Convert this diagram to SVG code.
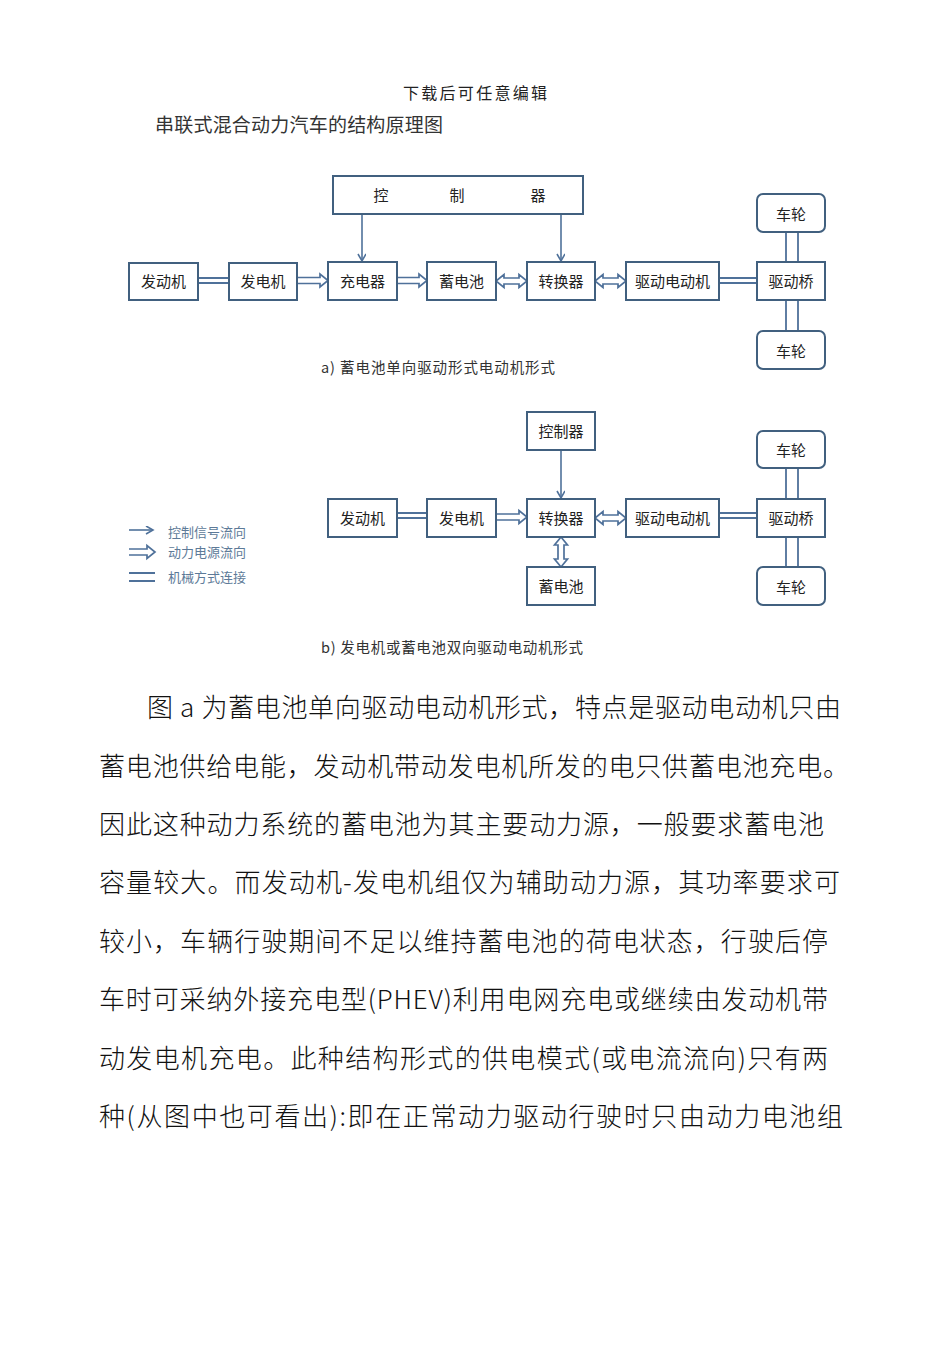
<svg xmlns="http://www.w3.org/2000/svg" width="950" height="1348" viewBox="0 0 950 1348">
<defs>
<style>
.box{fill:#fff;stroke:#41607f;stroke-width:2}
.lbl{font-family:"Noto Sans CJK SC","Noto Sans",sans-serif;font-size:15px;fill:#222;text-anchor:middle}
.mech{stroke:#4f719a;stroke-width:1.8;fill:none}
.pow{stroke:#4f719a;stroke-width:1.7;fill:#fff;stroke-linejoin:miter}
.sig{stroke:#4f719a;stroke-width:1.6;fill:none}
.cap{font-family:"Noto Sans CJK SC","Noto Sans",sans-serif;font-size:14.5px;fill:#333}
.leg{font-family:"Noto Sans CJK SC","Noto Sans",sans-serif;font-size:13px;fill:#5d7a98}
.body{font-family:"Noto Sans CJK SC","Noto Sans CJK JP",sans-serif;font-size:26px;font-weight:300;fill:#111}
</style>
<marker id="ah" markerWidth="10" markerHeight="10" refX="8" refY="4" orient="auto" markerUnits="userSpaceOnUse">
<path d="M1,0 L8,4 L1,8" fill="none" stroke="#4f719a" stroke-width="1.6"/>
</marker>
</defs>
<rect width="950" height="1348" fill="#fff"/>

<text x="475" y="99" font-family="Noto Sans CJK SC, sans-serif" font-size="16" fill="#222" text-anchor="middle" textLength="144" lengthAdjust="spacing">下载后可任意编辑</text>
<text x="155" y="132" font-family="Noto Sans CJK SC, sans-serif" font-size="19" fill="#333" textLength="288" lengthAdjust="spacing">串联式混合动力汽车的结构原理图</text>

<!-- Diagram a -->
<g id="connectors-a">
<line class="sig" x1="362" y1="214" x2="362" y2="261" marker-end="url(#ah)"/>
<line class="sig" x1="561" y1="214" x2="561" y2="261" marker-end="url(#ah)"/>
<path class="mech" d="M198,278 H229 M198,283 H229"/>
<path class="pow" d="M297,277.5 H320 V274 L328,280.5 L320,287 V283.5 H297"/>
<path class="pow" d="M397,277.5 H419 V274 L427,280.5 L419,287 V283.5 H397"/>
<path class="pow" d="M504,278 H519 V274.5 L527,281 L519,287.5 V284 H504 V287.5 L496,281 L504,274.5 Z"/>
<path class="pow" d="M603,278 H618 V274.5 L626,281 L618,287.5 V284 H603 V287.5 L595,281 L603,274.5 Z"/>
<path class="mech" d="M719,278 H757 M719,283 H757"/>
<path class="mech" d="M786,232 V262 M798,232 V262 M786,300 V331 M798,300 V331"/>
</g>
<g id="a-ctrl"><rect class="box" x="333" y="176" width="250" height="38"/>
<text class="lbl" x="381" y="201">控</text><text class="lbl" x="457" y="201">制</text><text class="lbl" x="538" y="201">器</text></g>
<g id="a-engine"><rect class="box" x="129" y="263" width="69" height="37"/><text class="lbl" x="163.5" y="287">发动机</text></g>
<g id="a-gen"><rect class="box" x="229" y="263" width="68" height="37"/><text class="lbl" x="263" y="287">发电机</text></g>
<g id="a-charger"><rect class="box" x="328" y="262" width="69" height="38"/><text class="lbl" x="362.5" y="287">充电器</text></g>
<g id="a-battery"><rect class="box" x="427" y="262" width="69" height="38"/><text class="lbl" x="461.5" y="287">蓄电池</text></g>
<g id="a-conv"><rect class="box" x="527" y="262" width="68" height="38"/><text class="lbl" x="561" y="287">转换器</text></g>
<g id="a-motor"><rect class="box" x="626" y="262" width="93" height="38"/><text class="lbl" x="672.5" y="287">驱动电动机</text></g>
<g id="a-axle"><rect class="box" x="757" y="262" width="68" height="38"/><text class="lbl" x="791" y="287">驱动桥</text></g>
<g id="a-wheel1"><rect class="box" x="757" y="194" width="68" height="38" rx="6"/><text class="lbl" x="791" y="219.5" font-size="18">车轮</text></g>
<g id="a-wheel2"><rect class="box" x="757" y="331" width="68" height="38" rx="6"/><text class="lbl" x="791" y="356.5" font-size="18">车轮</text></g>
<text class="cap" x="321" y="373" textLength="234" lengthAdjust="spacing">a) 蓄电池单向驱动形式电动机形式</text>

<!-- Diagram b -->
<g id="connectors-b">
<line class="sig" x1="561" y1="450" x2="561" y2="498" marker-end="url(#ah)"/>
<path class="mech" d="M397,513 H427 M397,518 H427"/>
<path class="pow" d="M496,514 H519 V510.5 L527,517 L519,523.5 V520 H496"/>
<path class="pow" d="M603,515 H618 V511.5 L626,518 L618,524.5 V521 H603 V524.5 L595,518 L603,511.5 Z"/>
<path class="pow" d="M558,545 V559 H554.5 L561,567 L567.5,559 H564 V545 H567.5 L561,537 L554.5,545 Z"/>
<path class="mech" d="M719,513 H757 M719,518 H757"/>
<path class="mech" d="M786,468 V499 M798,468 V499 M786,537 V567 M798,537 V567"/>
</g>
<g id="b-ctrl"><rect class="box" x="527" y="412" width="68" height="38"/><text class="lbl" x="561" y="437">控制器</text></g>
<g id="b-engine"><rect class="box" x="328" y="499" width="69" height="38"/><text class="lbl" x="362.5" y="524">发动机</text></g>
<g id="b-gen"><rect class="box" x="427" y="499" width="69" height="38"/><text class="lbl" x="461.5" y="524">发电机</text></g>
<g id="b-conv"><rect class="box" x="527" y="499" width="68" height="38"/><text class="lbl" x="561" y="524">转换器</text></g>
<g id="b-battery"><rect class="box" x="527" y="567" width="68" height="38"/><text class="lbl" x="561" y="592">蓄电池</text></g>
<g id="b-motor"><rect class="box" x="626" y="499" width="93" height="38"/><text class="lbl" x="672.5" y="524">驱动电动机</text></g>
<g id="b-axle"><rect class="box" x="757" y="499" width="68" height="38"/><text class="lbl" x="791" y="524">驱动桥</text></g>
<g id="b-wheel1"><rect class="box" x="757" y="431" width="68" height="37" rx="6"/><text class="lbl" x="791" y="456" font-size="18">车轮</text></g>
<g id="b-wheel2"><rect class="box" x="757" y="567" width="68" height="38" rx="6"/><text class="lbl" x="791" y="592.5" font-size="18">车轮</text></g>

<g id="legend">
<line class="sig" x1="129" y1="530" x2="153" y2="530" marker-end="url(#ah)"/>
<path class="pow" d="M129,549 H147 V545.5 L155,552 L147,558.5 V555 H129"/>
<path class="mech" d="M129,573 H155 M129,581 H155"/>
<text class="leg" x="168" y="537">控制信号流向</text>
<text class="leg" x="168" y="557">动力电源流向</text>
<text class="leg" x="168" y="582">机械方式连接</text>
</g>
<text class="cap" x="321" y="653" textLength="262" lengthAdjust="spacing">b) 发电机或蓄电池双向驱动电动机形式</text>

<!-- Body text -->
<g id="body">
<text class="body" x="147" y="717" textLength="694" lengthAdjust="spacing">图 a 为蓄电池单向驱动电动机形式，特点是驱动电动机只由</text>
<text class="body" x="99" y="776" textLength="750" lengthAdjust="spacing">蓄电池供给电能，发动机带动发电机所发的电只供蓄电池充电。</text>
<text class="body" x="99" y="834" textLength="725" lengthAdjust="spacing">因此这种动力系统的蓄电池为其主要动力源，一般要求蓄电池</text>
<text class="body" x="99" y="892" textLength="741" lengthAdjust="spacing">容量较大。而发动机-发电机组仅为辅助动力源，其功率要求可</text>
<text class="body" x="99" y="951" textLength="729" lengthAdjust="spacing">较小，车辆行驶期间不足以维持蓄电池的荷电状态，行驶后停</text>
<text class="body" x="99" y="1009" textLength="729" lengthAdjust="spacing">车时可采纳外接充电型(PHEV)利用电网充电或继续由发动机带</text>
<text class="body" x="99" y="1068" textLength="729" lengthAdjust="spacing">动发电机充电。此种结构形式的供电模式(或电流流向)只有两</text>
<text class="body" x="99" y="1126" textLength="744" lengthAdjust="spacing">种(从图中也可看出):即在正常动力驱动行驶时只由动力电池组</text>
</g>
</svg>
